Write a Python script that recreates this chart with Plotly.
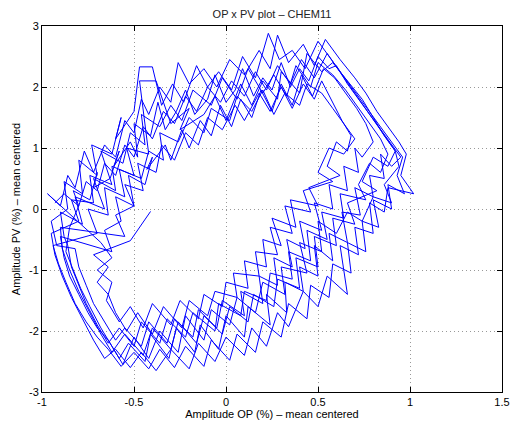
import plotly.graph_objects as go

# ---- data (hand-traced passes around the cycle) ----
op_loop1 = [-0.93,-0.88,-0.80,-0.76,-0.70,-0.66,-0.60,-0.55,-0.50,-0.45,-0.40,-0.34,-0.28,-0.22,-0.16,-0.10,-0.03,0.03,0.10,0.16,0.22,0.28,0.35,0.41,0.48,0.55,0.63,0.71,0.78,0.85,0.92,0.88,0.80,0.74,0.82,0.66,0.70,0.58,0.60,0.48,0.50,0.38,0.40,0.28,0.26,0.15,0.12,0.02,-0.02,-0.12,-0.16,-0.26,-0.30,-0.40,-0.45,-0.55,-0.62,-0.68,-0.74,-0.80,-0.85,-0.89,-0.90]
pv_loop1 = [0.10,0.25,0.05,0.45,0.30,0.75,0.55,1.05,0.85,1.35,1.15,1.60,1.40,1.85,1.60,2.00,1.75,2.10,1.85,2.25,1.95,2.35,2.05,2.45,2.15,2.55,2.20,1.85,1.55,1.25,0.95,0.70,0.85,0.45,0.30,0.10,-0.25,-0.15,-0.60,-0.45,-0.95,-0.80,-1.30,-1.15,-1.60,-1.40,-1.85,-1.60,-2.05,-1.75,-2.20,-1.85,-2.30,-1.95,-2.40,-2.05,-2.35,-2.05,-1.70,-1.35,-1.00,-0.65,-0.30]

op_loop2 = [-0.55,-0.60,-0.50,-0.55,-0.45,-0.48,-0.38,-0.35,-0.28,-0.22,-0.15,-0.10,-0.02,0.05,0.10,0.18,0.24,0.30,0.36,0.42,0.48,0.52,0.58,0.63,0.68,0.66,0.60,0.55,0.62,0.45,0.50,0.35,0.38,0.25,0.30,0.20,0.22,0.10,0.12,0.00,-0.02,-0.12,-0.15,-0.25,-0.30,-0.40,-0.45,-0.52,-0.58,-0.65,-0.62,-0.70,-0.62,-0.68]
pv_loop2 = [-0.45,-0.10,0.05,0.40,0.30,0.75,0.60,1.05,0.80,1.25,1.05,1.50,1.30,1.70,1.45,1.90,1.60,2.00,1.65,2.05,1.80,2.10,1.75,1.45,1.20,0.95,1.10,0.70,0.55,0.35,0.05,0.15,-0.30,-0.15,-0.60,-0.50,-0.95,-0.85,-1.30,-1.20,-1.60,-1.40,-1.80,-1.50,-1.90,-1.55,-1.95,-1.60,-1.85,-1.50,-1.20,-1.00,-0.80,-0.55]

op_loop3 = [-0.97,-0.90,-0.86,-0.82,-0.77,-0.72,-0.66,-0.60,-0.55,-0.50,-0.46,-0.42,-0.36,-0.30,-0.26,-0.20,-0.12,-0.05,0.02,0.10,0.18,0.24,0.28,0.34,0.42,0.48,0.54,0.62,0.70,0.76,0.82,0.88,0.94,0.98,0.95,1.02,0.88,0.86,0.78,0.80,0.70,0.72,0.62,0.66,0.55,0.50,0.42,0.34,0.28,0.22,0.14,0.10,0.00,-0.06,-0.15,-0.20,-0.30,-0.38,-0.46,-0.52,-0.60,-0.66,-0.72,-0.78,-0.84,-0.89,-0.93,-0.95]
pv_loop3 = [0.25,0.05,0.55,0.35,0.95,0.60,1.05,0.85,1.45,1.25,1.80,1.55,2.00,1.75,2.40,2.05,2.30,2.00,2.45,2.20,2.60,2.30,2.85,2.40,2.70,2.35,2.78,2.45,2.15,1.90,1.60,1.35,1.10,0.90,0.55,0.25,0.35,-0.05,0.10,-0.40,-0.30,-0.75,-0.60,-1.40,-1.10,-1.60,-1.35,-1.93,-1.70,-2.25,-1.95,-2.40,-2.10,-2.50,-2.20,-2.62,-2.30,-2.65,-2.35,-2.60,-2.30,-2.45,-2.15,-1.80,-1.45,-1.10,-0.75,-0.40]

op_loop4 = [-0.80,-0.84,-0.72,-0.74,-0.62,-0.68,-0.56,-0.52,-0.44,-0.46,-0.36,-0.30,-0.24,-0.18,-0.08,-0.02,0.06,0.12,0.20,0.26,0.33,0.38,0.46,0.50,0.58,0.65,0.72,0.78,0.84,0.88,0.84,0.78,0.72,0.76,0.62,0.64,0.52,0.55,0.44,0.46,0.34,0.36,0.24,0.22,0.10,0.08,-0.04,-0.06,-0.18,-0.22,-0.32,-0.36,-0.46,-0.50,-0.58,-0.64,-0.70,-0.76,-0.80,-0.84,-0.86]
pv_loop4 = [-0.20,0.15,0.10,0.55,0.40,0.95,0.75,1.25,1.05,1.55,1.35,1.70,1.45,1.95,1.70,2.15,1.80,2.30,1.90,2.20,1.85,2.35,2.00,2.40,2.20,1.95,1.65,1.40,1.15,0.90,0.60,0.75,0.40,0.15,0.25,-0.15,-0.05,-0.50,-0.35,-0.85,-0.70,-1.15,-1.05,-1.50,-1.35,-1.75,-1.55,-2.00,-1.70,-2.10,-1.80,-2.20,-1.85,-2.25,-1.95,-2.20,-1.90,-1.55,-1.25,-0.95,-0.60]

op_loop5 = [-0.88,-0.90,-0.78,-0.82,-0.66,-0.72,-0.60,-0.62,-0.50,-0.54,-0.42,-0.47,-0.38,-0.30,-0.20,-0.25,-0.12,-0.06,0.00,0.08,0.14,0.20,0.28,0.30,0.40,0.44,0.52,0.58,0.66,0.74,0.80,0.86,0.92,0.94,0.86,0.90,0.80,0.74,0.66,0.60,0.50,0.52,0.40,0.44,0.30,0.32,0.20,0.16,0.06,0.02,-0.08,-0.12,-0.22,-0.26,-0.36,-0.42,-0.50,-0.56,-0.62,-0.68,-0.74,-0.79,-0.83,-0.87]
pv_loop5 = [-0.45,-0.05,-0.25,0.20,0.00,0.50,0.30,0.70,0.55,1.00,0.90,2.10,2.10,1.40,1.65,1.30,1.55,1.85,1.45,2.05,1.70,2.10,1.80,2.25,1.90,2.55,2.25,2.40,2.10,1.80,1.50,1.20,0.95,0.70,0.40,0.10,0.20,-0.20,-0.05,-0.40,-0.20,-0.70,-0.55,-1.05,-0.95,-1.40,-1.20,-1.70,-1.45,-1.90,-1.65,-2.15,-1.75,-2.35,-2.00,-2.45,-2.10,-2.55,-2.25,-1.95,-1.60,-1.30,-1.00,-0.70]

op_loop6 = [-0.85,-0.80,-0.83,-0.74,-0.70,-0.72,-0.63,-0.58,-0.61,-0.52,-0.48,-0.50,-0.41,-0.37,-0.33,-0.27,-0.22,-0.17,-0.10,-0.06,0.00,0.05,0.09,0.15,0.20,0.25,0.30,0.35,0.40,0.45,0.50,0.56,0.60,0.66,0.72,0.78,0.84,0.90,0.95,0.90,0.84,0.86,0.78,0.80,0.70,0.73,0.63,0.66,0.56,0.58,0.48,0.50,0.40,0.42,0.32,0.33,0.22,0.24,0.12,0.10,0.00,-0.04,-0.14,-0.17,-0.27,-0.31,-0.41,-0.44,-0.53,-0.58,-0.64,-0.70,-0.75,-0.80,-0.85,-0.88,-0.90]
pv_loop6 = [-0.30,0.05,0.30,0.15,0.60,0.35,0.50,0.95,0.70,1.10,0.85,1.40,1.20,1.75,1.30,1.60,1.95,1.55,1.80,2.20,1.75,1.95,2.30,1.85,2.15,1.95,2.40,2.00,2.30,2.10,2.50,2.30,2.35,2.05,1.80,1.55,1.30,1.05,0.85,0.70,0.90,0.50,0.55,0.20,0.35,-0.10,-0.05,-0.55,-0.40,-0.85,-0.60,-1.10,-0.95,-1.35,-1.20,-1.70,-1.40,-1.90,-1.60,-2.10,-1.75,-2.30,-1.90,-2.35,-1.95,-2.45,-2.05,-2.50,-2.20,-2.45,-2.15,-1.95,-1.70,-1.40,-1.10,-0.80,-0.45]

op_loop7 = [-0.62,-0.66,-0.57,-0.60,-0.50,-0.53,-0.44,-0.40,-0.43,-0.33,-0.30,-0.24,-0.20,-0.14,-0.08,-0.03,0.03,0.08,0.14,0.19,0.25,0.30,0.36,0.41,0.47,0.53,0.59,0.65,0.71,0.76,0.80,0.74,0.70,0.72,0.64,0.66,0.56,0.58,0.48,0.52,0.40,0.43,0.33,0.36,0.26,0.28,0.18,0.20,0.08,0.10,-0.02,-0.05,-0.15,-0.18,-0.28,-0.32,-0.42,-0.46,-0.55,-0.60,-0.66,-0.72,-0.76,-0.80,-0.82]
pv_loop7 = [-0.70,-0.35,-0.20,0.20,0.05,0.55,0.40,0.85,0.65,1.05,0.80,1.30,1.00,1.45,1.20,1.70,1.35,1.80,1.50,1.95,1.60,2.05,1.70,2.20,1.85,2.30,2.15,1.90,1.65,1.40,1.10,0.85,1.00,0.60,0.70,0.30,0.40,0.00,0.10,-0.35,-0.20,-0.65,-0.50,-0.95,-0.80,-1.25,-1.10,-1.55,-1.35,-1.75,-1.50,-1.95,-1.65,-2.10,-1.80,-2.20,-1.85,-2.25,-1.95,-2.15,-1.85,-1.55,-1.25,-0.95,-0.65]

op_loop8 = [-0.92,-0.95,-0.86,-0.88,-0.78,-0.80,-0.70,-0.73,-0.62,-0.57,-0.60,-0.50,-0.47,-0.40,-0.35,-0.29,-0.23,-0.16,-0.10,-0.04,0.03,0.09,0.16,0.23,0.29,0.36,0.43,0.50,0.56,0.62,0.68,0.74,0.80,0.86,0.91,0.96,0.93,0.97,0.88,0.90,0.80,0.83,0.74,0.76,0.66,0.68,0.58,0.56,0.46,0.44,0.34,0.30,0.20,0.16,0.06,0.02,-0.08,-0.12,-0.22,-0.28,-0.36,-0.42,-0.50,-0.57,-0.64,-0.70,-0.76,-0.82,-0.87,-0.91,-0.94]
pv_loop8 = [-0.60,-0.20,0.00,0.45,0.25,0.80,0.55,1.05,0.90,1.50,1.15,1.60,2.33,2.33,1.70,2.05,1.75,2.35,2.00,2.25,1.95,2.50,2.15,2.88,2.45,2.60,2.30,2.75,2.50,2.25,2.00,1.75,1.50,1.25,1.05,0.85,0.55,0.25,0.40,0.00,0.15,-0.30,-0.20,-0.70,-0.55,-1.05,-0.90,-1.45,-1.25,-1.80,-1.55,-2.10,-1.85,-2.35,-2.05,-2.48,-2.15,-2.58,-2.25,-2.60,-2.30,-2.62,-2.35,-2.58,-2.30,-2.10,-1.85,-1.55,-1.20,-0.90,-0.60]

op_loop9 = [-0.70,-0.75,-0.64,-0.66,-0.55,-0.58,-0.46,-0.42,-0.34,-0.36,-0.26,-0.20,-0.12,-0.08,0.02,0.06,0.14,0.20,0.26,0.32,0.40,0.44,0.52,0.58,0.64,0.70,0.64,0.56,0.50,0.58,0.42,0.46,0.32,0.36,0.24,0.28,0.16,0.18,0.04,0.06,-0.06,-0.10,-0.20,-0.24,-0.34,-0.40,-0.48,-0.54,-0.60,-0.64,-0.70,-0.64,-0.72,-0.52,-0.41]
pv_loop9 = [-0.40,0.00,-0.10,0.35,0.20,0.65,0.50,0.95,0.80,1.25,1.10,1.50,1.25,1.65,1.45,1.85,1.60,1.95,1.55,1.90,1.70,2.05,1.90,1.65,1.40,1.15,0.90,1.00,0.60,0.45,0.30,-0.05,0.05,-0.40,-0.30,-0.75,-0.70,-1.10,-1.05,-1.45,-1.35,-1.75,-1.50,-1.95,-1.60,-2.05,-1.70,-2.00,-1.70,-1.40,-1.20,-0.95,-0.75,-0.52,-0.04]

x_ticks = [-1, -0.5, 0, 0.5, 1, 1.5]
x_tick_labels = ["-1", "-0.5", "0", "0.5", "1", "1.5"]
y_ticks = [-3, -2, -1, 0, 1, 2, 3]
y_tick_labels = ["-3", "-2", "-1", "0", "1", "2", "3"]

op_loops = [op_loop1, op_loop2, op_loop3, op_loop4, op_loop5, op_loop6, op_loop7, op_loop8, op_loop9]
pv_loops = [pv_loop1, pv_loop2, pv_loop3, pv_loop4, pv_loop5, pv_loop6, pv_loop7, pv_loop8, pv_loop9]
op = [v for loop in op_loops for v in loop]
pv = [v for loop in pv_loops for v in loop]

fig = go.Figure()
fig.add_trace(go.Scatter(x=op, y=pv, mode="lines",
                         line=dict(color="#0000ff", width=1), showlegend=False))

font_family = "Liberation Sans, Arial, Helvetica, sans-serif"
axis_common = dict(
    showline=True, linecolor="black", linewidth=1, mirror="ticks",
    ticks="inside", ticklen=5, tickcolor="black", tickwidth=1,
    showgrid=True, gridcolor="#999999", griddash="1px,3px", gridwidth=1,
    zeroline=False, tickfont=dict(size=11, color="black", family=font_family),
)
fig.update_layout(
    width=519, height=427,
    margin=dict(l=42, r=9, t=26, b=32),
    paper_bgcolor="white", plot_bgcolor="white",
    font=dict(family=font_family, size=11, color="black"),
    title=dict(text="OP x PV plot \u2013 CHEM11", x=0.5, xanchor="center",
               xref="paper", y=1 - 14/427, yanchor="middle",
               font=dict(size=11, color="#222222", family=font_family)),
    xaxis=dict(range=[-1, 1.5], tickvals=x_ticks, ticktext=x_tick_labels,
               title=dict(text="Amplitude OP (%) \u2013 mean centered", standoff=2,
                          font=dict(size=11)), **axis_common),
    yaxis=dict(range=[-3, 3], tickvals=y_ticks, ticktext=y_tick_labels,
               title=dict(text="Amplitude PV (%) \u2013 mean centered", standoff=6,
                          font=dict(size=11)), **axis_common),
)
fig.write_html("out.html")
